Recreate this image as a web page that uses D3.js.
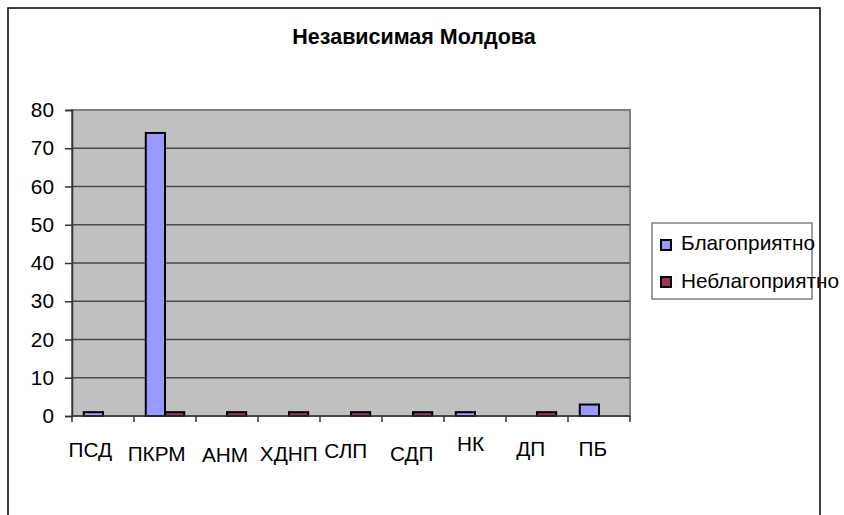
<!DOCTYPE html>
<html>
<head>
<meta charset="utf-8">
<script src="https://cdn.jsdelivr.net/npm/d3@7"></script>
<style>
  body { margin: 0; background: #fff; }
  text { font-family: "Liberation Sans", Arial, sans-serif; fill: #000; }
</style>
</head>
<body>
<svg id="chart" width="844" height="515"></svg>
<script>
// data
const categories = ["ПСД", "ПКРМ", "АНМ", "ХДНП", "СЛП", "СДП", "НК", "ДП", "ПБ"];
const seriesNames = ["Благоприятно", "Неблагоприятно"];
const favorable = [1, 74, 0, 0, 0, 0, 1, 0, 3];
const unfavorable = [0, 1, 1, 1, 1, 1, 0, 1, 0];
const yTicks = [0, 10, 20, 30, 40, 50, 60, 70, 80];
const title = "Независимая Молдова";

const colors = ["#9999FF", "#993366"];
const seriesValues = [favorable, unfavorable];
//  the category labels sit a little unevenly in the original
const labelNudgeX = [-12.7, -8.3, -2, -0.2, -5.2, -1.3, -4.5, -6.2, -6.2];
const labelNudgeY = [-2, 2, 2.5, 2, -1, 2, -8, -3.5, -3];

function draw_chart() {
  const svg = d3.select("#chart");
  const plot = {left: 72, right: 630, top: 110, bottom: 416};
  const fs = "20.8px";

  // outer chart frame (bottom edge runs off the picture)
  svg.append("rect")
    .attr("x", 8).attr("y", 8)
    .attr("width", 812).attr("height", 540)
    .attr("fill", "#fff")
    .attr("stroke", "#000")
    .attr("stroke-width", 1.5);

  svg.append("text")
    .attr("x", 414).attr("y", 44)
    .attr("text-anchor", "middle")
    .style("font-size", "21.5px")
    .style("font-weight", "bold")
    .text(title);

  const x0 = d3.scaleBand().domain(categories).range([plot.left, plot.right]);
  const pad = x0.bandwidth() * 0.19;
  const x1 = d3.scaleBand().domain(seriesNames).range([pad, x0.bandwidth() - pad]);
  const y = d3.scaleLinear().domain([0, 80]).range([plot.bottom, plot.top]);

  // plot background
  svg.append("rect")
    .attr("x", plot.left).attr("y", plot.top)
    .attr("width", plot.right - plot.left).attr("height", plot.bottom - plot.top)
    .attr("fill", "#C0C0C0")
    .attr("stroke", "#808080")
    .attr("stroke-width", 2);

  // gridlines
  svg.append("g")
    .selectAll("line")
    .data(yTicks.slice(1, -1))
    .join("line")
    .attr("x1", plot.left).attr("x2", plot.right)
    .attr("y1", d => y(d)).attr("y2", d => y(d))
    .attr("stroke", "#4a4a4a")
    .attr("stroke-width", 1.5);

  // y axis
  const yAxis = svg.append("g")
    .attr("transform", `translate(${plot.left},0)`)
    .call(d3.axisLeft(y).tickValues(yTicks).tickSize(7).tickPadding(11));
  yAxis.select(".domain").attr("stroke", "#333").attr("stroke-width", 1.5);
  yAxis.selectAll(".tick line").attr("stroke", "#333").attr("stroke-width", 1.5);
  yAxis.selectAll("text")
    .style("font-size", fs)
    .style("font-family", "'Liberation Sans', Arial, sans-serif")
    .attr("fill", "#000");

  // bars
  categories.forEach((c, i) => {
    seriesValues.forEach((vals, s) => {
      if (vals[i] <= 0) return;
      svg.append("rect")
        .attr("x", x0(c) + x1(seriesNames[s]))
        .attr("y", y(vals[i]))
        .attr("width", x1.bandwidth())
        .attr("height", y(0) - y(vals[i]))
        .attr("fill", colors[s])
        .attr("stroke", "#000")
        .attr("stroke-width", 2);
    });
  });

  // x axis with ticks at category boundaries
  const xg = svg.append("g");
  xg.append("line")
    .attr("x1", plot.left).attr("x2", plot.right)
    .attr("y1", plot.bottom).attr("y2", plot.bottom)
    .attr("stroke", "#333").attr("stroke-width", 1.5);
  xg.selectAll(".bt")
    .data(categories.concat([null]))
    .join("line")
    .attr("x1", (d, i) => plot.left + i * x0.step())
    .attr("x2", (d, i) => plot.left + i * x0.step())
    .attr("y1", plot.bottom).attr("y2", plot.bottom + 6)
    .attr("stroke", "#333").attr("stroke-width", 1.5);
  xg.selectAll("text")
    .data(categories)
    .join("text")
    .attr("x", (d, i) => x0(d) + x0.bandwidth() / 2 + labelNudgeX[i])
    .attr("y", (d, i) => 459 + labelNudgeY[i])
    .attr("text-anchor", "middle")
    .style("font-size", fs)
    .text(d => d);

  // legend
  const lg = svg.append("g");
  lg.append("rect")
    .attr("x", 652).attr("y", 223)
    .attr("width", 160).attr("height", 76)
    .attr("fill", "#fff")
    .attr("stroke", "#808080")
    .attr("stroke-width", 1.5);
  seriesNames.forEach((n, s) => {
    lg.append("rect")
      .attr("x", 661).attr("y", 240 + s * 37)
      .attr("width", 10).attr("height", 10)
      .attr("fill", colors[s])
      .attr("stroke", "#000")
      .attr("stroke-width", 2);
    lg.append("text")
      .attr("x", 681).attr("y", 249.5 + s * 38)
      .style("font-size", fs)
      .text(n);
  });
}

draw_chart();
</script>
</body>
</html>
